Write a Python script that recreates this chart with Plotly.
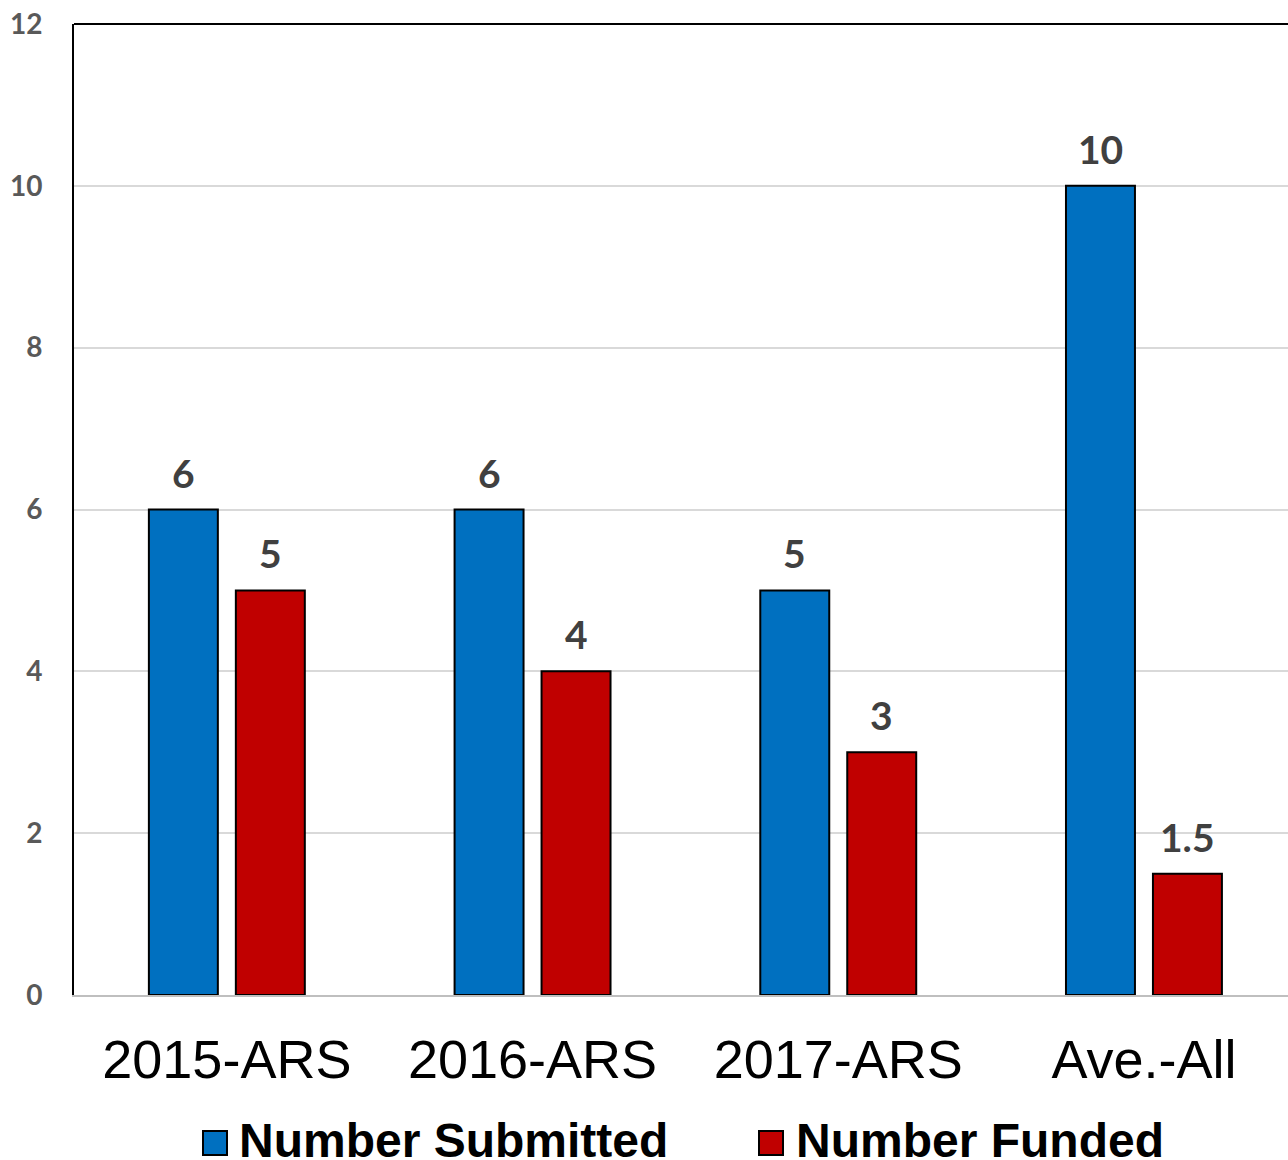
import plotly.graph_objects as go

# Categories and series values
categories = ["2015-ARS", "2016-ARS", "2017-ARS", "Ave.-All"]
submitted = [6, 6, 5, 10]
funded = [5, 4, 3, 1.5]
series_names = ["Number Submitted", "Number Funded"]
series_colors = ["#0070C0", "#C00000"]
y_ticks = [0, 2, 4, 6, 8, 10, 12]

W, H = 1288, 1160
M_L, M_R, M_T, M_B = 74, 0, 24, 165
BARGAP, BARGROUPGAP = 0.431, 0.207
CAT_PX = 305.7  # pixel width of one category band

plot_w = W - M_L - M_R
plot_h = H - M_T - M_B
x_hi = -0.5 + plot_w / CAT_PX

fig = go.Figure()
for name, vals, color in zip(series_names, [submitted, funded], series_colors):
    fig.add_trace(go.Bar(
        x=categories, y=vals, name=name,
        marker=dict(color=color, line=dict(color="black", width=2)),
        showlegend=False,
    ))

# Value labels above each bar
slot = (1 - BARGAP) / 2
annotations = []
for k, vals in enumerate([submitted, funded]):
    off = (k - 0.5) * slot
    for i, v in enumerate(vals):
        annotations.append(dict(
            x=i + off, y=v, xref="x", yref="y",
            text=f"<b>{v:g}</b>", showarrow=False,
            xanchor="center", yanchor="bottom", yshift=12,
            font=dict(family="Lato", size=39, color="#404040"),
        ))

# Legend drawn below the category labels
def px_x(p):
    return (p - M_L) / plot_w

def px_y(p):
    return (H - M_B - p) / plot_h

legend_items = [(203, 237), (759, 794)]
shapes = []
for (sq_x, txt_x), name, color in zip(legend_items, series_names, series_colors):
    shapes.append(dict(
        type="rect", xref="paper", yref="paper",
        x0=px_x(sq_x), x1=px_x(sq_x + 24), y0=px_y(1155), y1=px_y(1131),
        fillcolor=color, line=dict(color="black", width=2),
    ))
    annotations.append(dict(
        x=px_x(txt_x), y=px_y(1140), xref="paper", yref="paper",
        text=f"<b>{name}</b>", showarrow=False, xanchor="left", yanchor="middle",
        font=dict(family="Liberation Sans", size=48, color="black"),
    ))

# Top border of the plot area
shapes.append(dict(type="line", xref="paper", yref="paper",
                   x0=0, x1=1, y0=1, y1=1, line=dict(color="black", width=2)))

fig.update_layout(
    width=W, height=H,
    margin=dict(l=M_L, r=M_R, t=M_T, b=M_B, pad=0),
    paper_bgcolor="white", plot_bgcolor="white",
    barmode="group", bargap=BARGAP, bargroupgap=BARGROUPGAP,
    showlegend=False,
    annotations=annotations, shapes=shapes,
    xaxis=dict(
        type="category", range=[-0.5, x_hi],
        showline=True, linecolor="#BFBFBF", linewidth=2,
        ticks="", showgrid=False, ticklabelstandoff=16,
        tickfont=dict(family="Liberation Sans", size=54, color="black"),
    ),
    yaxis=dict(
        range=[0, 12], tickvals=y_ticks,
        ticktext=[f"<b>{t}</b>" for t in y_ticks],
        showline=True, linecolor="black", linewidth=2,
        showgrid=True, gridcolor="#D9D9D9", gridwidth=2,
        zeroline=False, ticks="", ticklabelstandoff=24,
        tickfont=dict(family="Lato", size=28, color="#595959"),
    ),
)

fig.write_html("out.html")
